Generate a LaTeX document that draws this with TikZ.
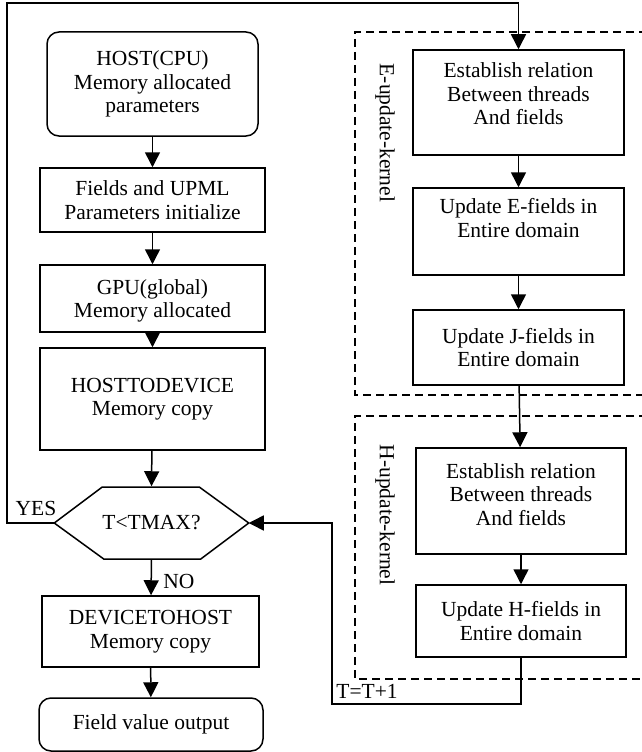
\documentclass[tikz,border=0pt]{standalone}
\usepackage{fontspec}
\setmainfont{Liberation Serif}
\usepackage{tikz}
\usetikzlibrary{arrows.meta, positioning}
\tikzstyle{block} = [draw, fill=white, rectangle, align=center,
    minimum width=225pt, inner sep=2pt]
\tikzstyle{rblock} = [block, rounded corners=12pt]
\tikzstyle{kernel} = [draw, dash pattern=on 8pt off 5pt]
\tikzstyle{label} = [inner sep=1pt]

\begin{document}
\begin{tikzpicture}[x=1pt, y=-1pt, line width=1.5pt, >={Triangle[length=15pt,width=15pt]},
    every node/.style={font=\fontsize{21.5}{23.5}\selectfont}]
    \useasboundingbox (0,0) rectangle (642,752);
    \clip (0,0) rectangle (642,752);
    % left column
    \node [rblock, minimum width=211pt, minimum height=104pt] (host) at (152.5,84) {HOST(CPU)\\Memory allocated\\parameters};
    \node [block, minimum height=64pt] (init) at (152.5,200) {Fields and UPML\\Parameters initialize};
    \node [block, minimum height=67pt] (gpu) at (152.5,298.5) {\\[-4pt]GPU(global)\\Memory allocated};
    \node [block, minimum height=102pt] (htod) at (152.5,399) {HOSTTODEVICE\\Memory copy};
    \node [minimum width=193pt, minimum height=72pt, inner sep=0pt] (test) at (151.5,523) {T<TMAX?};
    \draw (test.west) -- ++(48,-36) -- ++(97,0) -- (test.east) -- ++(-48,36) -- ++(-97,0) -- cycle;
    \node [block, minimum width=217pt, minimum height=71pt] (dtoh) at (150.5,631.5) {DEVICETOHOST\\Memory copy};
    \node [rblock, minimum width=224pt, minimum height=53pt] (output) at (151,724.5) {Field value output};
    % kernels
    \draw [kernel] (660,32) -| (355,395) -- (660,395);
    \draw [kernel] (660,416) -| (355,679) -- (660,679);
    \node [label, rotate=-90] (ekern) at (385,133) {E-update-kernel};
    \node [label, rotate=-90] (hkern) at (385,515) {H-update-kernel};
    \node [block, minimum width=211pt, minimum height=105pt] (erel) at (518.5,102.5) {Establish relation\\Between threads\\And fields\\[-6pt]};
    \node [block, minimum width=211pt, minimum height=87pt] (eupd) at (518.5,231.5) {Update E-fields in\\Entire domain\\[4pt]};
    \node [block, minimum width=211pt, minimum height=75pt] (jupd) at (518.5,347.5) {Update J-fields in\\Entire domain};
    \node [block, minimum width=210pt, minimum height=106pt] (hrel) at (521,501) {Establish relation\\Between threads\\And fields\\[-10pt]};
    \node [block, minimum width=210pt, minimum height=72pt] (hupd) at (521,621) {Update H-fields in\\Entire domain};
    % connectors
    \draw [->] (host) -- (init);
    \draw [->] (init) -- (gpu);
    \draw [->] (gpu) -- (htod);
    \draw [->] (htod) -- (test.north);
    \draw [->] (test.south) -- (dtoh);
    \draw [->] (dtoh) -- (output);
    \draw [->] (erel) -- (eupd);
    \draw [->] (eupd) -- (jupd);
    \draw [->] (jupd) -- (hrel);
    \draw [->] (hrel) -- (hupd);
    \coordinate (yesturn) at (7,3);
    \coordinate (nextturn) at (332,704);
    \draw [->] (test.west) -| (yesturn) -| (erel.north);
    \draw [->] (hupd.south) |- (nextturn) |- (test.east);
    \node [label] (yes) at (36,508) {YES};
    \node [label] (no) at (179,581) {NO};
    \node [label] (step) at (367,691) {T=T+1};
\end{tikzpicture}
\end{document}
